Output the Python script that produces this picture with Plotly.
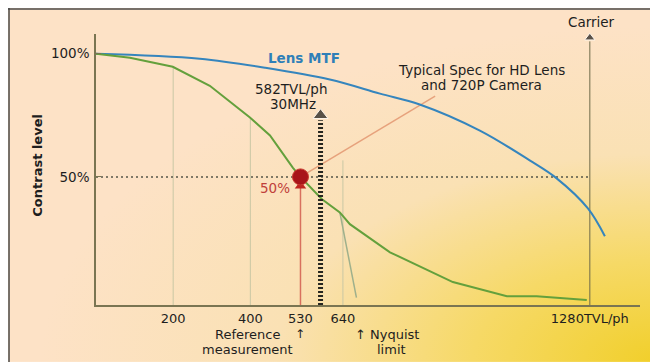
import base64
import plotly.graph_objects as go

# ---------------- data ----------------
lens_tvl = [0, 269, 438, 606, 736, 839, 995, 1124, 1194, 1275, 1319]
lens_contrast = [100, 98, 94.3, 89.5, 83.8, 79.4, 68.8, 56.7, 49.4, 37.2, 25.9]

system_tvl = [0, 88, 199, 295, 399, 451, 510, 530, 585, 632, 658, 762, 925, 1065, 1142, 1272]
system_contrast = [100, 98.4, 94.7, 87, 74.1, 66.8, 53.8, 50, 41, 35.6, 30.8, 19.4, 7.3, 1.6, 1.6, 0]

alias_tvl = [632, 675]
alias_contrast = [35.6, 1]

x_tick_vals = [200, 400, 530, 640, 1280]
x_tick_text = ["200", "400", "530", "640", "1280TVL/ph"]
y_tick_vals = [50, 100]
y_tick_text = ["50%", "100%"]

drop_tvl = [200, 400, 640]
drop_top = [94.7, 74.1, 56.7]

ref_tvl, ref_level = 530, 50
spec_tvl, spec_top = 582, 73
carrier_tvl, carrier_top = 1280, 105
pointer_tvl = [530, 879]
pointer_level = [50, 82.8]

Y0 = -2
XMAX = 1410
YMAX = 108

FONT = "DejaVu Sans"
DARK = "#1e1e1e"
AXIS = "#7a7552"

fig = go.Figure()

# background gradient (decoration)
svg = ('<svg xmlns="http://www.w3.org/2000/svg" width="650" height="354" viewBox="0 0 650 354" '
       'preserveAspectRatio="none"><defs><radialGradient id="g" cx="1" cy="1" r="0.95" '
       'gradientUnits="objectBoundingBox"><stop offset="0" stop-color="#f1cf2a"/>'
       '<stop offset="0.3" stop-color="#f6d966"/><stop offset="0.62" stop-color="#fae1b4"/>'
       '<stop offset="1" stop-color="#fde2c6"/></radialGradient></defs>'
       '<rect width="650" height="354" fill="url(#g)"/></svg>')
src = "data:image/svg+xml;base64," + base64.b64encode(svg.encode()).decode()

# drop lines
for xv, top in zip(drop_tvl, drop_top):
    fig.add_trace(go.Scatter(x=[xv, xv], y=[Y0, top], mode="lines",
                             line=dict(color="#c9c7a4", width=1), hoverinfo="skip"))

# 50% dotted level line
fig.add_trace(go.Scatter(x=[0, carrier_tvl], y=[ref_level, ref_level], mode="lines",
                         line=dict(color="#555548", width=1.5, dash="2px,3px"), hoverinfo="skip"))

# carrier line
fig.add_trace(go.Scatter(x=[carrier_tvl, carrier_tvl], y=[Y0, carrier_top], mode="lines",
                         line=dict(color="#6f6a4a", width=1), hoverinfo="skip"))

# red reference line
fig.add_trace(go.Scatter(x=[ref_tvl, ref_tvl], y=[Y0, ref_level], mode="lines",
                         line=dict(color="#d8705e", width=1.5), hoverinfo="skip"))

# pointer line to "Typical Spec"
fig.add_trace(go.Scatter(x=pointer_tvl, y=pointer_level, mode="lines",
                         line=dict(color="#e7a27c", width=1.5), hoverinfo="skip"))

# lens MTF
fig.add_trace(go.Scatter(x=lens_tvl, y=lens_contrast, mode="lines", line_shape="spline",
                         line=dict(color="#3585bd", width=2), hoverinfo="skip"))

# aliasing drop-off
fig.add_trace(go.Scatter(x=alias_tvl, y=alias_contrast, mode="lines",
                         line=dict(color="#9fb08c", width=1.5), hoverinfo="skip"))

# system MTF
fig.add_trace(go.Scatter(x=system_tvl, y=system_contrast, mode="lines",
                         line=dict(color="#64a03c", width=2), hoverinfo="skip"))

# 582 TVL dotted arrow
fig.add_trace(go.Scatter(x=[spec_tvl, spec_tvl], y=[Y0, spec_top], mode="lines",
                         line=dict(color="#262620", width=5, dash="2px,2px"), hoverinfo="skip"))

# arrow heads
fig.add_trace(go.Scatter(x=[spec_tvl, carrier_tvl], y=[spec_top + 2, carrier_top + 1.5],
                         mode="markers", cliponaxis=False,
                         marker=dict(symbol="triangle-up", size=[13, 9], color="#141414"),
                         hoverinfo="skip"))
fig.add_trace(go.Scatter(x=[1428], y=[Y0], mode="markers", cliponaxis=False,
                         marker=dict(symbol="triangle-right", size=11, color="#141414"),
                         hoverinfo="skip"))

# red point
fig.add_trace(go.Scatter(x=[ref_tvl], y=[46.3], mode="markers",
                         marker=dict(symbol="triangle-up", size=10, color="#c02420"), hoverinfo="skip"))
fig.add_trace(go.Scatter(x=[ref_tvl], y=[ref_level], mode="markers",
                         marker=dict(symbol="circle", size=16, color="#a8141a",
                                     line=dict(color="#c83a30", width=1)), hoverinfo="skip"))

ann = []
def txt(x, y, s, size=13.5, color=DARK, xanchor="center", bold=False, xref="x", yref="y", angle=0):
    ann.append(dict(x=x, y=y, xref=xref, yref=yref, text=f"<b>{s}</b>" if bold else s,
                    showarrow=False, xanchor=xanchor, yanchor="middle", textangle=angle,
                    font=dict(family=FONT, size=size, color=color)))

txt(540, 98.2, "Lens MTF", size=13.5, color="#2f7fb8", bold=True)
txt(506, 85.5, "582TVL/ph", size=13.5)
txt(511, 79.4, "30MHz", size=13.5)
txt(1000, 93.4, "Typical Spec for HD Lens", size=13.5)
txt(1000, 87.3, "and 720P Camera", size=13.5)
txt(1283, 1.044, "Carrier", size=13.5, yref="paper")
txt(463, 45.6, "50%", size=13.5, color="#c0403a")
txt(392, -0.108, "Reference", size=13, yref="paper")
txt(530, -0.108, "↑", size=12, yref="paper")
txt(393, -0.163, "measurement", size=13, yref="paper")
txt(665, -0.108, "↑ Nyquist", size=13, xanchor="left", yref="paper")
txt(766, -0.163, "limit", size=13, yref="paper")
txt(-0.107, 0.517, "Contrast level", size=13, bold=True, xref="paper", yref="paper", angle=-90)

fig.update_layout(
    width=650, height=354,
    margin=dict(l=88, r=18, t=26, b=57),
    paper_bgcolor="white",
    plot_bgcolor="rgba(0,0,0,0)",
    showlegend=False,
    annotations=ann,
    images=[dict(source=src, xref="paper", yref="paper", x=-0.1618, y=1.096,
                 sizex=1.1949, sizey=1.306, sizing="stretch",
                 xanchor="left", yanchor="top", layer="below")],
    shapes=[
        dict(type="line", xref="paper", yref="paper", x0=-0.1618, x1=1.04, y0=1.0923, y1=1.0923,
             line=dict(color="#4a4a4a", width=1.5)),
        dict(type="line", xref="paper", yref="paper", x0=-0.1599, x1=-0.1599, y0=1.096, y1=-0.22,
             line=dict(color="#4a4a4a", width=1.5)),
    ],
    xaxis=dict(range=[0, XMAX], showgrid=False, zeroline=False, showline=True,
               linecolor=AXIS, linewidth=1.5, tickmode="array", tickvals=x_tick_vals,
               ticktext=x_tick_text, ticks="", ticklabelstandoff=1,
               tickfont=dict(family=FONT, size=13, color=DARK)),
    yaxis=dict(range=[Y0, YMAX], showgrid=False, zeroline=False, showline=True,
               linecolor=AXIS, linewidth=1.5, tickmode="array", tickvals=y_tick_vals,
               ticktext=y_tick_text, ticks="inside", ticklen=5, tickcolor=AXIS,
               ticklabelstandoff=2,
               tickfont=dict(family=FONT, size=13.5, color=DARK)),
)

fig.write_html("out.html")
